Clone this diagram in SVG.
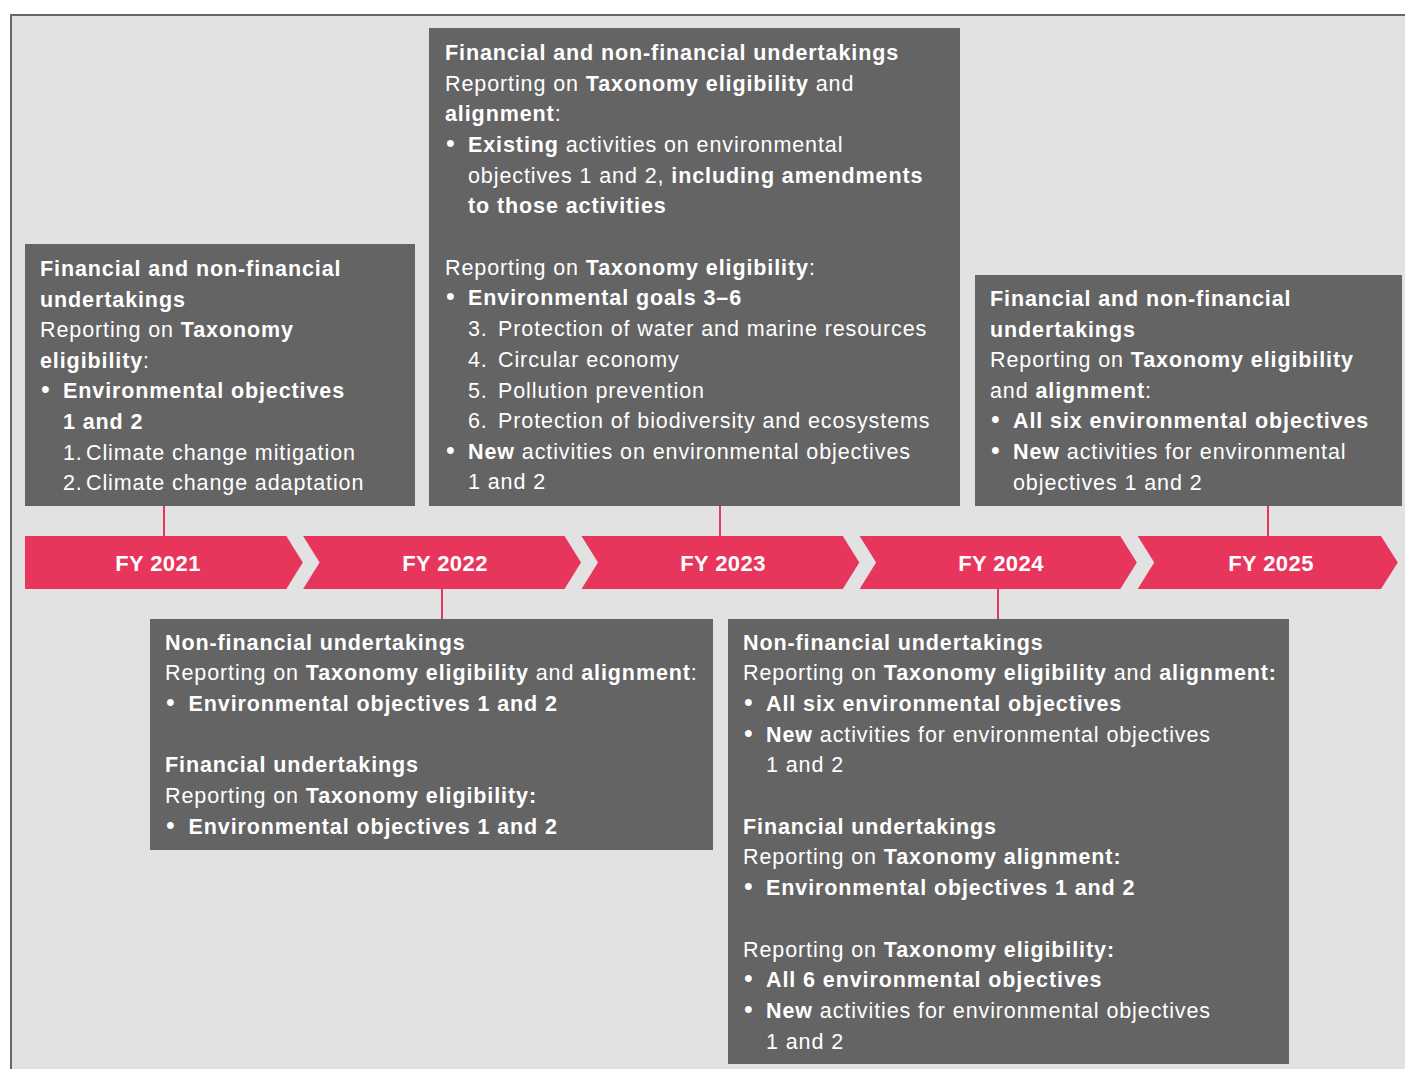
<svg xmlns="http://www.w3.org/2000/svg" width="1405" height="1069" viewBox="0 0 1405 1069">
<style>
.frame{fill:#e2e2e2;stroke:#666;stroke-width:2}
.box{fill:#646464}
.t{font-family:"Liberation Sans",Arial,Helvetica,sans-serif;font-size:21.5px;fill:#fff;letter-spacing:0.9px}
.b{font-weight:bold}
.bu{font-size:25px;letter-spacing:0}
.chev{fill:#e8355c}
.fy{font-family:"Liberation Sans",Arial,Helvetica,sans-serif;font-size:22px;font-weight:bold;fill:#fff;text-anchor:middle;letter-spacing:0.4px}
.conn{stroke:#e8355c;stroke-width:2;fill:none}
</style>
<rect class="frame" x="11" y="15" width="1400" height="1062"/>

<g id="connectors">
<line class="conn" x1="164" y1="505" x2="164" y2="537"/>
<line class="conn" x1="442" y1="588" x2="442" y2="620"/>
<line class="conn" x1="720" y1="505" x2="720" y2="537"/>
<line class="conn" x1="998" y1="588" x2="998" y2="620"/>
<line class="conn" x1="1268" y1="505" x2="1268" y2="537"/>
</g>

<g id="fy2021">
<polygon class="chev" points="25,536 286.3,536 302.8,562.5 286.3,589 25,589"/>
<text class="fy" x="158" y="571">FY 2021</text>
</g>
<g id="fy2022">
<polygon class="chev" points="303.1,536 564.5,536 581,562.5 564.5,589 303.1,589 319.6,562.5"/>
<text class="fy" x="445" y="571">FY 2022</text>
</g>
<g id="fy2023">
<polygon class="chev" points="581.5,536 842.8,536 859.3,562.5 842.8,589 581.5,589 598,562.5"/>
<text class="fy" x="723" y="571">FY 2023</text>
</g>
<g id="fy2024">
<polygon class="chev" points="859.6,536 1120.3,536 1136.8,562.5 1120.3,589 859.6,589 876.1,562.5"/>
<text class="fy" x="1001" y="571">FY 2024</text>
</g>
<g id="fy2025">
<polygon class="chev" points="1137.7,536 1381,536 1397.8,562.5 1381,589 1137.7,589 1154.2,562.5"/>
<text class="fy" x="1271" y="571">FY 2025</text>
</g>

<g id="box2021">
<rect class="box" x="25" y="244" width="390" height="262"/>
<text class="t b" x="40" y="276">Financial and non-financial</text>
<text class="t b" x="40" y="306.6">undertakings</text>
<text class="t" x="40" y="337.2">Reporting on <tspan class="b">Taxonomy</tspan></text>
<text class="t" x="40" y="367.8"><tspan class="b">eligibility</tspan>:</text>
<text class="t" x="41" y="398.4"><tspan class="bu">•</tspan><tspan class="b" x="63">Environmental objectives</tspan></text>
<text class="t b" x="63" y="429">1 and 2</text>
<text class="t" x="63" y="459.6">1.<tspan x="86">Climate change mitigation</tspan></text>
<text class="t" x="63" y="490.2">2.<tspan x="86">Climate change adaptation</tspan></text>
</g>

<g id="box2023">
<rect class="box" x="429" y="28" width="531" height="478"/>
<text class="t b" x="445" y="60">Financial and non-financial undertakings</text>
<text class="t" x="445" y="90.7">Reporting on <tspan class="b">Taxonomy eligibility</tspan> and</text>
<text class="t" x="445" y="121.4"><tspan class="b">alignment</tspan>:</text>
<text class="t" x="446" y="152"><tspan class="bu">•</tspan><tspan class="b" x="468">Existing</tspan> activities on environmental</text>
<text class="t" x="468" y="182.7">objectives 1 and 2, <tspan class="b">including amendments</tspan></text>
<text class="t b" x="468" y="213.4">to those activities</text>
<text class="t" x="445" y="274.8">Reporting on <tspan class="b">Taxonomy eligibility</tspan>:</text>
<text class="t" x="446" y="305.4"><tspan class="bu">•</tspan><tspan class="b" x="468">Environmental goals 3–6</tspan></text>
<text class="t" x="468" y="336.1">3.<tspan x="498">Protection of water and marine resources</tspan></text>
<text class="t" x="468" y="366.8">4.<tspan x="498">Circular economy</tspan></text>
<text class="t" x="468" y="397.5">5.<tspan x="498">Pollution prevention</tspan></text>
<text class="t" x="468" y="428.2">6.<tspan x="498">Protection of biodiversity and ecosystems</tspan></text>
<text class="t" x="446" y="458.8"><tspan class="bu">•</tspan><tspan class="b" x="468">New</tspan> activities on environmental objectives</text>
<text class="t" x="468" y="489.4">1 and 2</text>
</g>

<g id="box2025">
<rect class="box" x="975" y="275" width="427" height="231"/>
<text class="t b" x="990" y="306">Financial and non-financial</text>
<text class="t b" x="990" y="336.6">undertakings</text>
<text class="t" x="990" y="367.2">Reporting on <tspan class="b">Taxonomy eligibility</tspan></text>
<text class="t" x="990" y="397.8">and <tspan class="b">alignment</tspan>:</text>
<text class="t" x="991" y="428.4"><tspan class="bu">•</tspan><tspan class="b" x="1013">All six environmental objectives</tspan></text>
<text class="t" x="991" y="459"><tspan class="bu">•</tspan><tspan class="b" x="1013">New</tspan> activities for environmental</text>
<text class="t" x="1013" y="489.6">objectives 1 and 2</text>
</g>

<g id="box2022">
<rect class="box" x="150" y="619" width="563" height="231"/>
<text class="t b" x="165" y="649.5">Non-financial undertakings</text>
<text class="t" x="165" y="680.2">Reporting on <tspan class="b">Taxonomy eligibility</tspan> and <tspan class="b">alignment</tspan>:</text>
<text class="t" x="166" y="710.9"><tspan class="bu">•</tspan><tspan class="b" x="188.5">Environmental objectives 1 and 2</tspan></text>
<text class="t b" x="165" y="772.3">Financial undertakings</text>
<text class="t" x="165" y="803">Reporting on <tspan class="b">Taxonomy eligibility:</tspan></text>
<text class="t" x="166" y="833.7"><tspan class="bu">•</tspan><tspan class="b" x="188.5">Environmental objectives 1 and 2</tspan></text>
</g>

<g id="box2024">
<rect class="box" x="728" y="619" width="561" height="445"/>
<text class="t b" x="743" y="649.5">Non-financial undertakings</text>
<text class="t" x="743" y="680.2">Reporting on <tspan class="b">Taxonomy eligibility</tspan> and <tspan class="b">alignment:</tspan></text>
<text class="t" x="744" y="710.9"><tspan class="bu">•</tspan><tspan class="b" x="766">All six environmental objectives</tspan></text>
<text class="t" x="744" y="741.6"><tspan class="bu">•</tspan><tspan class="b" x="766">New</tspan> activities for environmental objectives</text>
<text class="t" x="766" y="772.3">1 and 2</text>
<text class="t b" x="743" y="833.7">Financial undertakings</text>
<text class="t" x="743" y="864.4">Reporting on <tspan class="b">Taxonomy alignment:</tspan></text>
<text class="t" x="744" y="895.1"><tspan class="bu">•</tspan><tspan class="b" x="766">Environmental objectives 1 and 2</tspan></text>
<text class="t" x="743" y="956.5">Reporting on <tspan class="b">Taxonomy eligibility:</tspan></text>
<text class="t" x="744" y="987.2"><tspan class="bu">•</tspan><tspan class="b" x="766">All 6 environmental objectives</tspan></text>
<text class="t" x="744" y="1017.9"><tspan class="bu">•</tspan><tspan class="b" x="766">New</tspan> activities for environmental objectives</text>
<text class="t" x="766" y="1048.6">1 and 2</text>
</g>
</svg>
